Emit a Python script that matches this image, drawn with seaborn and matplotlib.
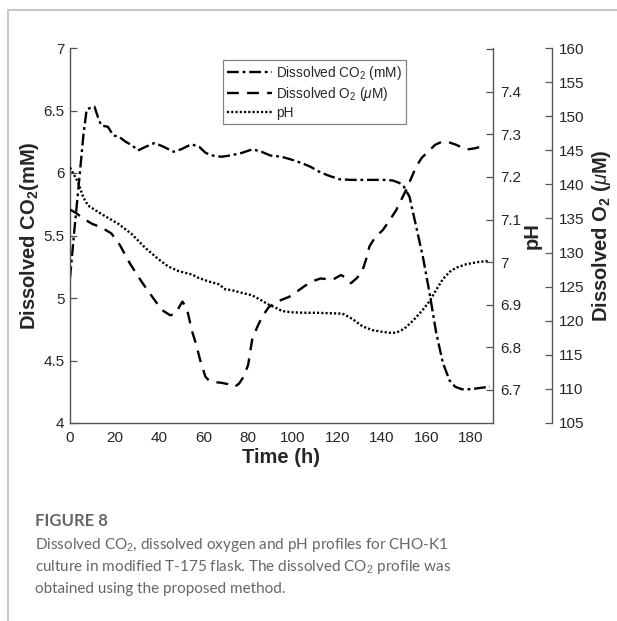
import matplotlib
matplotlib.use("Agg")
import matplotlib.pyplot as plt
import seaborn as sns
import numpy as np
import pandas as pd
from matplotlib.lines import Line2D

# ---------------- data ----------------
co2_t = [0, 2, 4, 6, 7.5, 9, 11, 12.5, 14, 17, 19.5, 22, 25, 28, 30.5, 34, 38, 42, 46.5,
         50, 54.5, 58, 61, 64, 68, 72, 77, 82, 86, 90, 95, 99, 104, 108, 112, 116, 121,
         126, 131, 136, 141, 145, 148, 150, 152.5, 155.5, 158.5, 161.5, 164.5, 167.5,
         170.5, 173, 176, 180, 184, 188.6]
co2_v = [5.16, 5.55, 5.92, 6.3, 6.51, 6.52, 6.53, 6.45, 6.38, 6.37, 6.3, 6.29, 6.25, 6.22,
         6.18, 6.21, 6.24, 6.21, 6.17, 6.19, 6.23, 6.21, 6.16, 6.14, 6.13, 6.14, 6.16, 6.19,
         6.17, 6.14, 6.13, 6.11, 6.08, 6.05, 6.01, 5.98, 5.95, 5.945, 5.945, 5.945, 5.945,
         5.94, 5.92, 5.89, 5.81, 5.57, 5.33, 5.04, 4.72, 4.48, 4.34, 4.29, 4.27, 4.27, 4.28,
         4.29]

o2_t = [0, 2.8, 5, 7.4, 10, 14, 18.6, 22.4, 26.9, 32.2, 37.4, 41.2, 45, 47.2, 50.5, 52.5,
        54.7, 56.5, 58.5, 60.8, 62.5, 65, 68, 71, 74, 76, 78, 80, 81.8, 84, 86.3, 89.3, 93,
        98.4, 102, 105.9, 109, 112.6, 117.9, 121.7, 124, 126.2, 129, 131.4, 133, 134.5, 137,
        140.5, 143.5, 146.5, 151, 155.5, 158, 161.5, 164, 167.4, 170, 173.5, 178, 182, 185.5]
o2_v = [136.3, 135.8, 135.2, 134.7, 134.2, 133.7, 132.8, 131.1, 128.4, 125.7, 123.3, 121.6,
        120.8, 121.0, 122.8, 121.8, 118.6, 116.7, 114.2, 111.8, 111.2, 111.0, 110.9, 110.7,
        110.3, 110.8, 111.8, 113.5, 117.2, 119.0, 120.6, 122.0, 122.8, 123.5, 124.3, 125.2,
        125.8, 126.2, 126.0, 126.7, 126.3, 125.5, 126.3, 127.4, 129.0, 130.9, 132.2, 133.3,
        134.7, 136.2, 139.2, 142.6, 143.9, 145.0, 145.8, 146.3, 146.2, 145.8, 145.1, 145.3,
        145.6]

ph_t = [0, 3.6, 5.9, 8.1, 14.1, 21.7, 27.7, 33.7, 39.7, 44, 48.7, 54.7, 57.7, 62, 66.8,
        69.8, 72.8, 77, 81.8, 86, 89.3, 92.3, 95.3, 100, 105, 110.4, 116, 122.4, 127, 131.4,
        136, 140.5, 143.5, 146.5, 150, 154, 158, 161.5, 164.5, 167.5, 170.5, 173.5, 178,
        183, 188.6]
ph_v = [7.222, 7.188, 7.153, 7.133, 7.113, 7.09, 7.066, 7.034, 7.007, 6.99, 6.979, 6.971,
        6.963, 6.955, 6.948, 6.936, 6.934, 6.928, 6.922, 6.91, 6.90, 6.893, 6.885, 6.882,
        6.881, 6.881, 6.880, 6.879, 6.866, 6.849, 6.840, 6.836, 6.834, 6.834, 6.843, 6.862,
        6.885, 6.908, 6.935, 6.96, 6.977, 6.987, 6.995, 7.0, 7.003]

x_ticks = [0, 20, 40, 60, 80, 100, 120, 140, 160, 180]
x_ticklabels = ["0", "20", "40", "60", "80", "100", "120", "140", "160", "180"]
co2_ticks = [4, 4.5, 5, 5.5, 6, 6.5, 7]
co2_ticklabels = ["4", "4.5", "5", "5.5", "6", "6.5", "7"]
ph_ticks = [6.7, 6.8, 6.9, 7.0, 7.1, 7.2, 7.3, 7.4, 7.5]
ph_ticklabels = ["6.7", "6.8", "6.9", "7", "7.1", "7.2", "7.3", "7.4", ""]
o2_ticks = [105, 110, 115, 120, 125, 130, 135, 140, 145, 150, 155, 160]
o2_ticklabels = [str(v) for v in o2_ticks]

legend_labels = [r"Dissolved CO$_2$ (mM)", r"Dissolved O$_2$ ($\mu$M)", "pH"]

caption_title = "FIGURE 8"
caption_lines = [r"Dissolved CO$_2$, dissolved oxygen and pH profiles for CHO-K1",
                 r"culture in modified T-175 flask. The dissolved CO$_2$ profile was",
                 "obtained using the proposed method."]

# ---------------- style ----------------
sns.set_theme(style="white")
plt.rcParams["font.family"] = ["Liberation Sans", "DejaVu Sans"]
plt.rcParams["mathtext.fontset"] = "custom"
plt.rcParams["mathtext.rm"] = "Liberation Sans"
plt.rcParams["mathtext.it"] = "Liberation Sans:italic"
plt.rcParams["mathtext.bf"] = "Liberation Sans:bold"

W, H = 617, 621
fig = plt.figure(figsize=(W / 100, H / 100), dpi=100)
L, R, T, B = 70, 493, 48, 423
ax = fig.add_axes([L / W, 1 - B / H, (R - L) / W, (B - T) / H])
ax2 = ax.twinx()
ax3 = ax.twinx()

spine_col = "#555555"
text_col = "#262626"
lw = 1.7

df_co2 = pd.DataFrame({"t": co2_t, "v": co2_v})
df_o2 = pd.DataFrame({"t": o2_t, "v": o2_v})
df_ph = pd.DataFrame({"t": ph_t, "v": ph_v})

ls_co2 = (0, (5, 1.6, 1.2, 1.6))
ls_o2 = (0, (5, 3.5))
ls_ph = (0, (0.9, 0.9))

sns.lineplot(data=df_co2, x="t", y="v", ax=ax, color="black", lw=lw,
             linestyle=ls_co2, estimator=None, sort=False)
sns.lineplot(data=df_ph, x="t", y="v", ax=ax2, color="black", lw=lw,
             linestyle=ls_ph, estimator=None, sort=False)
sns.lineplot(data=df_o2, x="t", y="v", ax=ax3, color="black", lw=lw,
             linestyle=ls_o2, estimator=None, sort=False)

ax.set_xlim(0, 190)
ax.set_ylim(4, 7)
ax2.set_ylim(6.622, 7.503)
ax3.set_ylim(105, 160)

ax.set_xticks(x_ticks)
ax.set_xticklabels(x_ticklabels)
ax.set_yticks(co2_ticks)
ax.set_yticklabels(co2_ticklabels)
ax2.set_yticks(ph_ticks)
ax2.set_yticklabels(ph_ticklabels)
ax3.set_yticks(o2_ticks)
ax3.set_yticklabels(o2_ticklabels)

for a in (ax, ax2, ax3):
    for s in a.spines.values():
        s.set_visible(False)
        s.set_color(spine_col)
        s.set_linewidth(1.0)
    a.tick_params(direction="in", length=5, width=0.9, color=spine_col,
                  labelsize=11, labelcolor=text_col, pad=5)
    a.grid(False)
    a.set_facecolor("none")

ax.spines["left"].set_visible(True)
ax.spines["bottom"].set_visible(True)
ax2.spines["right"].set_visible(True)
ax3.spines["right"].set_visible(True)
ax3.spines["right"].set_position(("axes", (552 - L) / (R - L)))
ax.tick_params(axis="y", pad=4)
ax.tick_params(axis="x", pad=6)

lab_kw = dict(fontsize=14.5, fontweight="bold", color=text_col)
ax.set_xlabel("Time (h)", labelpad=2, **lab_kw)
ax.set_ylabel(r"Dissolved CO$_\mathbf{2}$(mM)", labelpad=2, **lab_kw)
ax2.set_ylabel("pH", labelpad=1, **lab_kw)
ax3.set_ylabel(r"Dissolved O$_\mathbf{2}$ ($\mu$M)", labelpad=4, **lab_kw)

handles = [Line2D([], [], color="black", lw=lw, linestyle=ls_co2),
           Line2D([], [], color="black", lw=lw, linestyle=ls_o2),
           Line2D([], [], color="black", lw=lw, linestyle=ls_ph)]
leg = fig.legend(handles, legend_labels, loc="upper left",
                 bbox_to_anchor=(223 / W, 1 - 60 / H), fontsize=9.8,
                 frameon=True, fancybox=False, edgecolor="#666666",
                 borderaxespad=0, handlelength=3.3, handletextpad=0.3,
                 labelspacing=0.2, borderpad=0.3)
leg.get_frame().set_linewidth(0.9)
for t in leg.get_texts():
    t.set_color(text_col)

# card frame
fig.add_artist(Line2D([8 / W, 8 / W], [0, 1 - 10 / H], transform=fig.transFigure,
                      color="#bdbdbd", lw=1.2))
fig.add_artist(Line2D([8 / W, 1], [1 - 10 / H, 1 - 10 / H], transform=fig.transFigure,
                      color="#c8c8c8", lw=1.5))

# caption
fig.text(35 / W, 1 - 521 / H, caption_title, fontsize=12, fontweight="bold",
         color="#666666", family=["Lato", "DejaVu Sans"], va="center", ha="left")
for i, line in enumerate(caption_lines):
    fig.text(35 / W, 1 - (545.5 + 21.5 * i) / H, line, fontsize=11, color="#666666",
             family=["Lato", "DejaVu Sans"], va="center", ha="left")

fig.savefig("out.png", dpi=100)
